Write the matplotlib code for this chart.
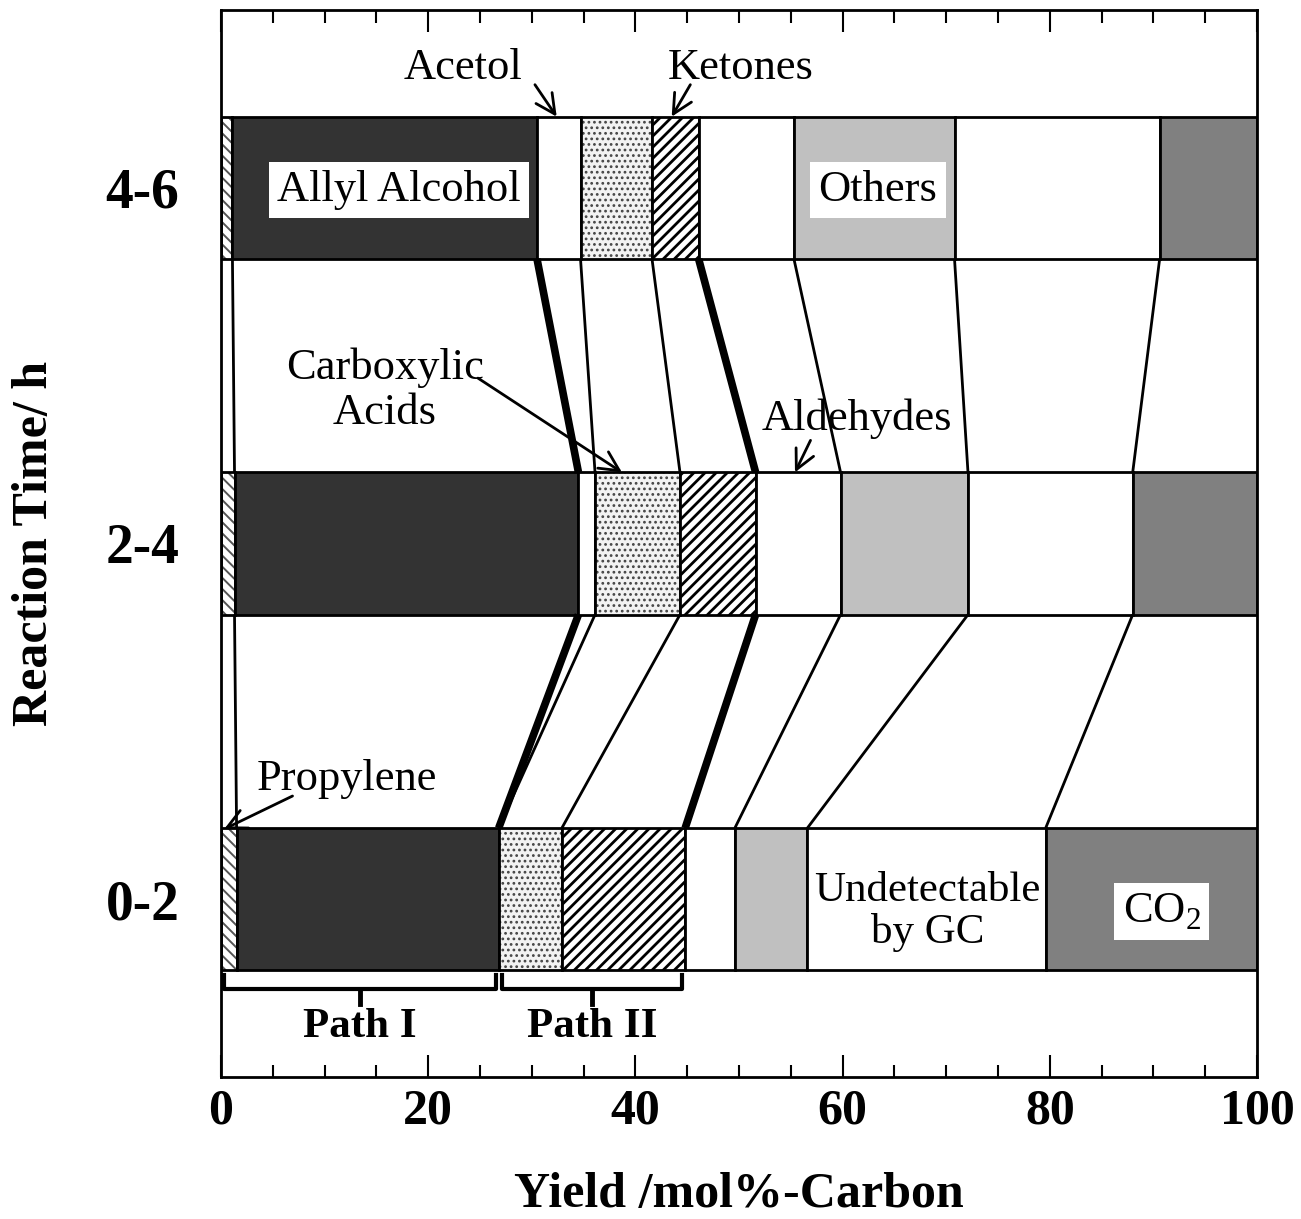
import numpy as np
import matplotlib
matplotlib.use("Agg")
import matplotlib.pyplot as plt

plt.rcParams['font.family'] = ['Liberation Serif', 'DejaVu Serif']
plt.rcParams['mathtext.fontset'] = 'custom'
plt.rcParams['mathtext.rm'] = 'Liberation Serif'
plt.rcParams['hatch.linewidth'] = 1.8

# reaction time windows (bottom to top)
rows = ['0-2', '2-4', '4-6']

# yields, mol%-carbon
propylene = [1.5, 1.3, 1.1]
allyl_alcohol = [25.3, 33.2, 29.4]
acetol = [0.0, 1.6, 4.2]
carboxylic_acids = [6.1, 8.2, 6.9]
ketones = [11.9, 7.3, 4.5]
aldehydes = [4.8, 8.2, 9.2]
others = [7.0, 12.3, 15.5]
undetectable = [23.0, 15.9, 19.8]
co2 = [20.4, 12.0, 9.4]

series = [propylene, allyl_alcohol, acetol, carboxylic_acids, ketones,
          aldehydes, others, undetectable, co2]
# face, hatch, hatch colour, hatch width
styles = [
    ('white', '\\\\\\', '#555555', 1.4),
    ('#333333', None, None, 0),
    ('white', None, None, 0),
    ('#f2f2f2', '...', '#444444', 1.2),
    ('white', '///', 'black', 2.0),
    ('white', None, None, 0),
    ('#c0c0c0', None, None, 0),
    ('white', None, None, 0),
    ('#808080', None, None, 0),
]
thick = {1, 4}  # boundaries after allyl alcohol and ketones

bar_h = 0.4
y = np.arange(len(rows))

fig = plt.figure(figsize=(13.01, 12.19), dpi=100)
ax = fig.add_axes([0.1699, 0.1165, 0.7963, 0.8753])

left = np.zeros(len(rows))
bounds = []
for vals, (face, hatch, hcol, hlw) in zip(series, styles):
    vals = np.array(vals)
    if hatch:
        with plt.rc_context({'hatch.linewidth': hlw}):
            bars = ax.barh(y, vals, left=left, height=bar_h, color=face,
                           hatch=hatch, edgecolor=hcol, linewidth=0)
            for p in bars:
                if hasattr(p, 'set_hatch_linewidth'):
                    p.set_hatch_linewidth(hlw)
    else:
        ax.barh(y, vals, left=left, height=bar_h, color=face, linewidth=0)
    ax.barh(y, vals, left=left, height=bar_h, fill=False,
            edgecolor='black', linewidth=2)
    left = left + vals
    bounds.append(left.copy())

# connecting lines between neighbouring bars
for i, bd in enumerate(bounds[:-1]):
    lw = 5.5 if i in thick else 2
    for r in range(len(rows) - 1):
        ax.plot([bd[r], bd[r + 1]], [y[r] + bar_h / 2, y[r + 1] - bar_h / 2],
                color='black', lw=lw, solid_capstyle='butt', zorder=3)

# labels
tfs = 32
box = dict(facecolor='white', edgecolor='none', pad=6)
ax.text(17.2, 1.994, 'Allyl Alcohol', fontsize=tfs, ha='center', va='center', bbox=box)
ax.text(63.4, 1.994, 'Others', fontsize=tfs, ha='center', va='center', bbox=box)
ax.text(68.2, -0.035, 'Undetectable\nby GC', fontsize=31, ha='center', va='center',
        linespacing=1.1)
ax.text(90.8, -0.035, 'CO$_2$', fontsize=tfs, ha='center', va='center', bbox=box)

ax.text(23.4, 2.338, 'Acetol', fontsize=tfs, ha='center', va='center')
ax.text(50.2, 2.338, 'Ketones', fontsize=tfs, ha='center', va='center')
ax.text(15.8, 1.431, 'Carboxylic\nAcids', fontsize=tfs, ha='center', va='center',
        linespacing=1.15)
ax.text(61.4, 1.352, 'Aldehydes', fontsize=tfs, ha='center', va='center')
ax.text(12.1, 0.338, 'Propylene', fontsize=tfs, ha='center', va='center')

arr = dict(arrowstyle='->', lw=2, color='black', mutation_scale=35,
           shrinkA=0, shrinkB=0)
arrows = [((30.3, 2.29), (32.4, 2.2)),
          ((45.3, 2.29), (43.5, 2.2)),
          ((24.8, 1.465), (38.7, 1.2)),
          ((56.9, 1.29), (55.4, 1.2)),
          ((6.9, 0.29), (0.3, 0.197))]
for start, tip in arrows:
    ax.annotate('', xy=tip, xytext=start, arrowprops=arr)

# path braces
paths = [('Path I', 0.0, bounds[2][0]), ('Path II', bounds[2][0], bounds[4][0])]
for name, x0, x1 in paths:
    xm = (x0 + x1) / 2
    ax.plot([x0 + 0.3, x0 + 0.3, x1 - 0.3, x1 - 0.3],
            [-0.212, -0.252, -0.252, -0.212], color='black', lw=3, zorder=3)
    ax.plot([xm, xm], [-0.252, -0.296], color='black', lw=3.5, zorder=3)
    ax.text(xm, -0.36, name, fontsize=31, fontweight='bold', ha='center', va='center')

ax.set_xlim(0, 100)
ax.set_ylim(-0.5, 2.5)
ax.set_xticks(np.arange(0, 101, 20))
ax.set_xticks(np.arange(0, 101, 5), minor=True)
ax.tick_params(axis='x', which='major', direction='in', length=16, width=1.5,
               top=True, labelsize=36, pad=8)
ax.tick_params(axis='x', which='minor', direction='in', length=9, width=1.5, top=True)
for lab in ax.get_xticklabels():
    lab.set_fontweight('bold')
ax.set_yticks(y)
ax.set_yticklabels(rows, fontsize=40, fontweight='bold')
ax.tick_params(axis='y', length=0, pad=30)
for s in ax.spines.values():
    s.set_linewidth(2)

ax.set_xlabel('Yield /mol%-Carbon', fontsize=36, fontweight='bold', va='center')
ax.xaxis.set_label_coords(0.5, -0.1106)
ax.set_ylabel('Reaction Time/ h', fontsize=36, fontweight='bold', va='center')
ax.yaxis.set_label_coords(-0.1795, 0.5)

fig.savefig('out.png', dpi=100)
